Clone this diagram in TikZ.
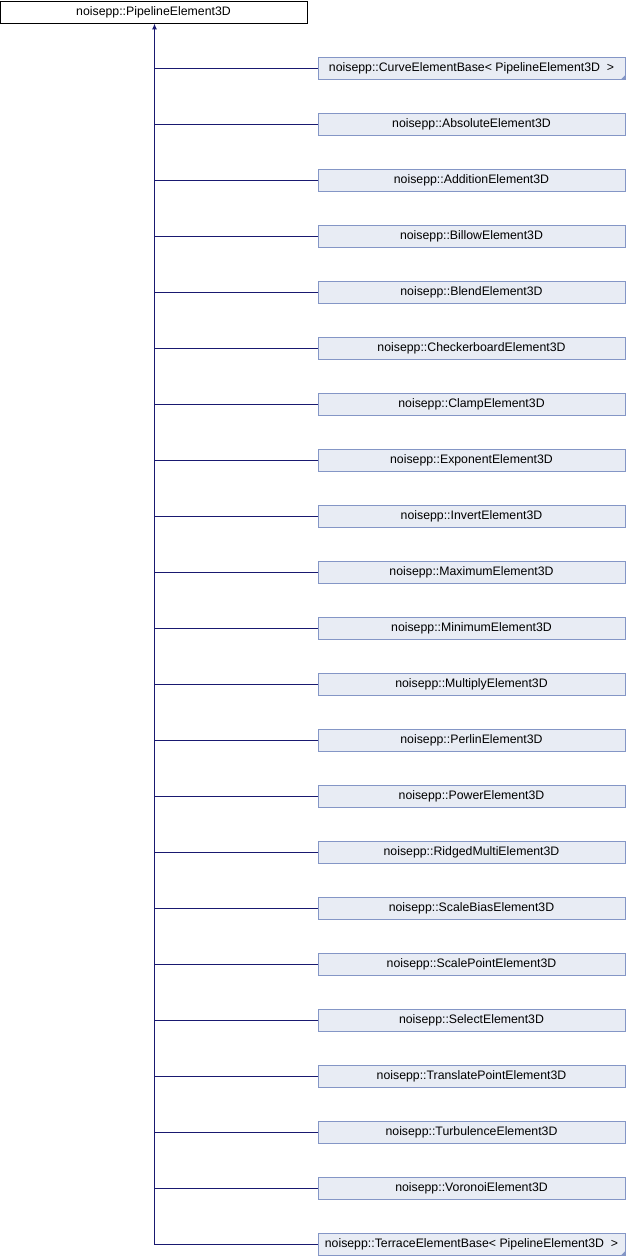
\documentclass[tikz,border=0pt]{standalone}
\usepackage{fontspec}
\setmainfont{Liberation Sans}
\usetikzlibrary{arrows.meta}
\definecolor{edgeblue}{HTML}{191970}
\definecolor{boxfill}{HTML}{E8ECF4}
\definecolor{boxdraw}{HTML}{8496C6}
\tikzset{
  basebox/.style={draw=black, fill=white, line width=0.9pt, minimum width=307pt, minimum height=22pt, inner sep=0pt, font=\fontsize{12.3}{14}\selectfont},
  childbox/.style={draw=boxdraw, fill=boxfill, line width=0.9pt, minimum width=307pt, minimum height=22pt, inner sep=0pt, font=\fontsize{12.3}{14}\selectfont},
  edge/.style={draw=edgeblue, line width=1.1pt},
  fold/.style={fill=boxdraw, draw=none}
}
\begin{document}
\begin{tikzpicture}[x=1pt,y=-1pt]
\useasboundingbox (0,0) rectangle (626,1256);
\node[basebox] (base) at (153.5,12) {noisepp::PipelineElement3D};
\coordinate (trunk) at (154.5,23);
\foreach \i/\t in {
 0/{noisepp::CurveElementBase<\ PipelineElement3D\ \ >},
 1/{noisepp::AbsoluteElement3D},
 2/{noisepp::AdditionElement3D},
 3/{noisepp::BillowElement3D},
 4/{noisepp::BlendElement3D},
 5/{noisepp::CheckerboardElement3D},
 6/{noisepp::ClampElement3D},
 7/{noisepp::ExponentElement3D},
 8/{noisepp::InvertElement3D},
 9/{noisepp::MaximumElement3D},
 10/{noisepp::MinimumElement3D},
 11/{noisepp::MultiplyElement3D},
 12/{noisepp::PerlinElement3D},
 13/{noisepp::PowerElement3D},
 14/{noisepp::RidgedMultiElement3D},
 15/{noisepp::ScaleBiasElement3D},
 16/{noisepp::ScalePointElement3D},
 17/{noisepp::SelectElement3D},
 18/{noisepp::TranslatePointElement3D},
 19/{noisepp::TurbulenceElement3D},
 20/{noisepp::VoronoiElement3D},
 21/{noisepp::TerraceElementBase<\ PipelineElement3D\ \ >}}
{
  \node[childbox] (c\i) at (471.5,68.5+56*\i) {\t};
  \coordinate (j\i) at (154.5,68.5+56*\i);
  \draw[edge] (j\i) -- (c\i.west);
}
\fill[fold] (c0.south east) -- ++(0,-5) -- ++(-5,5) -- cycle;
\fill[fold] (c21.south east) -- ++(0,-5) -- ++(-5,5) -- cycle;
\draw[edge, -{Latex[length=6pt,width=5pt]}] (j21) -- (base.south -| trunk);
\end{tikzpicture}
\end{document}
